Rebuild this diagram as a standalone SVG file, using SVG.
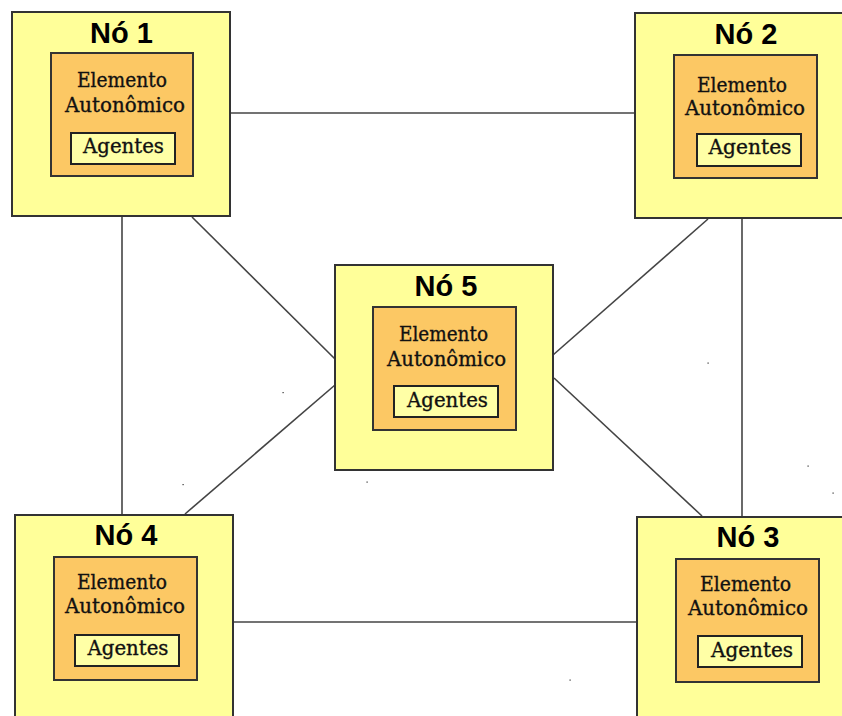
<svg xmlns="http://www.w3.org/2000/svg" width="842" height="716" viewBox="0 0 842 716">
<style>
.outer{fill:#FFFF99;stroke:#333;stroke-width:2}
.inner{fill:#FCC864;stroke:#333;stroke-width:2}
.ag{fill:#FFFFA6;stroke:#222;stroke-width:2}
.title{font-family:"Liberation Sans",Arial,sans-serif;font-weight:bold;font-size:29px;fill:#000;text-anchor:middle}
.lbl{font-family:"DejaVu Serif","Liberation Serif",serif;font-size:19.5px;fill:#111;stroke:#111;stroke-width:0.35;text-anchor:middle}
.conn line{stroke:#444;stroke-width:1.6}
.dot{fill:#333}
</style>
<rect width="842" height="716" fill="#fff"/>
<g id="connectors" class="conn">
<line x1="230" y1="113" x2="635" y2="113"/>
<line x1="233" y1="622" x2="637" y2="622"/>
<line x1="122" y1="216" x2="122" y2="515"/>
<line x1="742" y1="218" x2="742" y2="517"/>
<line x1="192" y1="217" x2="335" y2="359"/>
<line x1="708" y1="219" x2="553" y2="355"/>
<line x1="185" y1="514" x2="335" y2="385"/>
<line x1="554" y1="378" x2="702" y2="516"/>
</g>
<g id="dots">
<rect class="dot" x="282.5" y="392" width="1.2" height="1.2"/>
<rect class="dot" x="182.5" y="484" width="1.2" height="1.2"/>
<rect class="dot" x="366.5" y="481.5" width="1.2" height="1.2"/>
<rect class="dot" x="707.5" y="362.5" width="1.2" height="1.2"/>
<rect class="dot" x="807.5" y="465.5" width="1.2" height="1.2"/>
<rect class="dot" x="832.5" y="492.5" width="1.2" height="1.2"/>
<rect class="dot" x="569.5" y="679.5" width="1.2" height="1.2"/>
</g>
<g id="no1">
<rect class="outer" x="12" y="12" width="218" height="204"/>
<text class="title" x="121.5" y="43">Nó 1</text>
<rect class="inner" x="51" y="53" width="142" height="123"/>
<text class="lbl" x="122" y="87" textLength="90" lengthAdjust="spacingAndGlyphs">Elemento</text>
<text class="lbl" x="125" y="112" textLength="120" lengthAdjust="spacingAndGlyphs">Autonômico</text>
<rect class="ag" x="71" y="133" width="104" height="31"/>
<text class="lbl" x="123.5" y="153" textLength="81" lengthAdjust="spacingAndGlyphs">Agentes</text>
</g>
<g id="no2">
<rect class="outer" x="635" y="13" width="218" height="205"/>
<text class="title" x="746" y="44">Nó 2</text>
<rect class="inner" x="674" y="55" width="143" height="123"/>
<text class="lbl" x="742" y="92" textLength="90" lengthAdjust="spacingAndGlyphs">Elemento</text>
<text class="lbl" x="745" y="115" textLength="120" lengthAdjust="spacingAndGlyphs">Autonômico</text>
<rect class="ag" x="697" y="134" width="104" height="32"/>
<text class="lbl" x="750" y="154" textLength="83" lengthAdjust="spacingAndGlyphs">Agentes</text>
</g>
<g id="no5">
<rect class="outer" x="335" y="265" width="218" height="205"/>
<text class="title" x="446" y="296">Nó 5</text>
<rect class="inner" x="373" y="307" width="143" height="123"/>
<text class="lbl" x="443.5" y="341" textLength="89" lengthAdjust="spacingAndGlyphs">Elemento</text>
<text class="lbl" x="446.5" y="366" textLength="119" lengthAdjust="spacingAndGlyphs">Autonômico</text>
<rect class="ag" x="394" y="386" width="104" height="31"/>
<text class="lbl" x="447.5" y="407" textLength="81" lengthAdjust="spacingAndGlyphs">Agentes</text>
</g>
<g id="no4">
<rect class="outer" x="15" y="515" width="218" height="210"/>
<text class="title" x="126" y="545">Nó 4</text>
<rect class="inner" x="54" y="557" width="143" height="123"/>
<text class="lbl" x="122" y="589" textLength="90" lengthAdjust="spacingAndGlyphs">Elemento</text>
<text class="lbl" x="125" y="613" textLength="120" lengthAdjust="spacingAndGlyphs">Autonômico</text>
<rect class="ag" x="75" y="635" width="104" height="31"/>
<text class="lbl" x="128" y="655" textLength="81" lengthAdjust="spacingAndGlyphs">Agentes</text>
</g>
<g id="no3">
<rect class="outer" x="637" y="517" width="218" height="210"/>
<text class="title" x="748" y="547">Nó 3</text>
<rect class="inner" x="676" y="559" width="143" height="123"/>
<text class="lbl" x="745.5" y="591" textLength="91" lengthAdjust="spacingAndGlyphs">Elemento</text>
<text class="lbl" x="748" y="615" textLength="120" lengthAdjust="spacingAndGlyphs">Autonômico</text>
<rect class="ag" x="698" y="636" width="104" height="31"/>
<text class="lbl" x="752" y="657" textLength="82" lengthAdjust="spacingAndGlyphs">Agentes</text>
</g>
</svg>
